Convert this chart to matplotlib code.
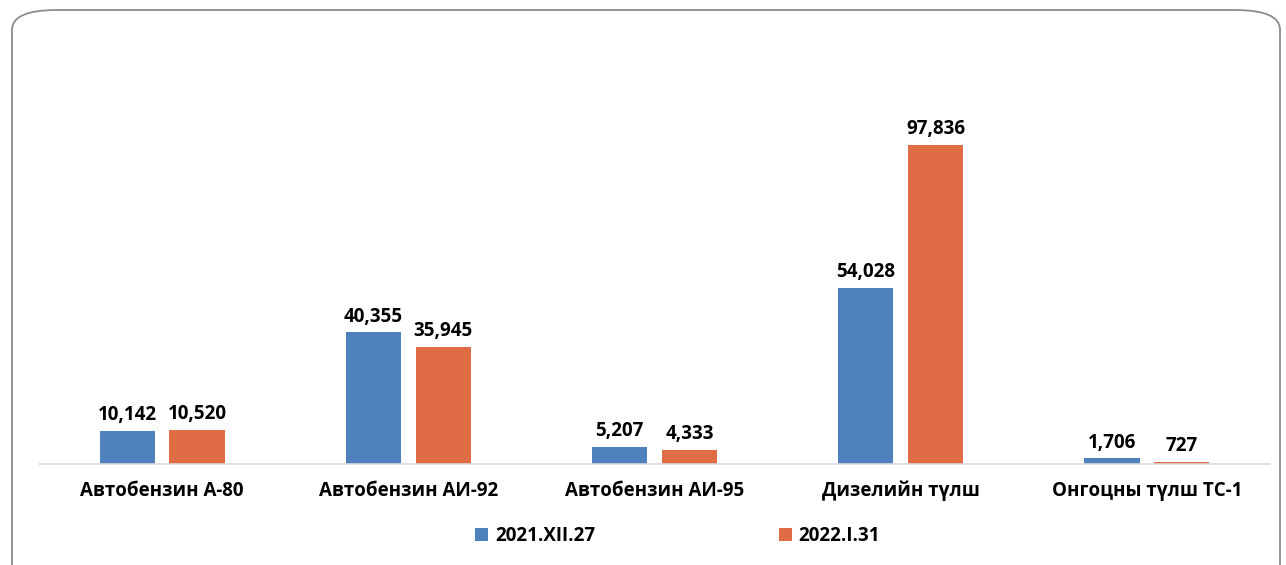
import numpy as np
from matplotlib import pyplot as plt
from matplotlib.patches import FancyBboxPatch

categories = ["Автобензин А-80", "Автобензин АИ-92", "Автобензин АИ-95",
              "Дизелийн түлш", "Онгоцны түлш ТС-1"]
series_names = ["2021.XII.27", "2022.I.31"]
values_2021 = [10142, 40355, 5207, 54028, 1706]
values_2022 = [10520, 35945, 4333, 97836, 727]
colors = ["#4f81bd", "#e06c45"]

plt.rcParams['font.family'] = ['Open Sans', 'DejaVu Sans']

W, H = 1286, 565
fig = plt.figure(figsize=(W / 100, H / 100), dpi=100)

# rounded frame around the chart
frame = FancyBboxPatch((12 / W, -20 / H), 1268 / W, 575 / H,
                       boxstyle="round,pad=0,rounding_size=0.035",
                       transform=fig.transFigure, facecolor="white",
                       edgecolor="#8c8c8c", linewidth=1.3, zorder=-5)
fig.patches.append(frame)

ax = fig.add_axes([39 / W, (H - 464) / H, 1231 / W, 424 / H])
ax.set_facecolor("none")
ax.set_zorder(2)

x = np.arange(len(categories))
width = 0.224
offset = 0.142
bars1 = ax.bar(x - offset, values_2021, width, color=colors[0], label=series_names[0])
bars2 = ax.bar(x + offset, values_2022, width, color=colors[1], label=series_names[1])

for bars in (bars1, bars2):
    for b in bars:
        ax.annotate(f"{int(b.get_height()):,}",
                    (b.get_x() + b.get_width() / 2, b.get_height()),
                    xytext=(0, 4), textcoords="offset points",
                    ha="center", va="bottom", fontsize=13.5, fontweight="bold")

ax.set_xlim(-0.5, len(categories) - 0.5)
ax.set_ylim(0, 130000)
ax.set_xticks(x)
ax.set_xticklabels(categories, fontsize=13.5, fontweight="bold")
ax.tick_params(axis="x", length=0, pad=12)
ax.set_yticks([])
for s in ["top", "right", "left"]:
    ax.spines[s].set_visible(False)
ax.spines["bottom"].set_color("#d9d9d9")
ax.spines["bottom"].set_linewidth(1.2)

fig.legend(handles=[bars1, bars2], labels=series_names, loc="center",
           bbox_to_anchor=(0.527, (H - 536) / H), ncol=2, frameon=False,
           handlelength=0.7, handleheight=0.7, handletextpad=0.35,
           columnspacing=9.8, prop={'weight': 'bold', 'size': 13.5})

fig.savefig("out.png", dpi=100)
